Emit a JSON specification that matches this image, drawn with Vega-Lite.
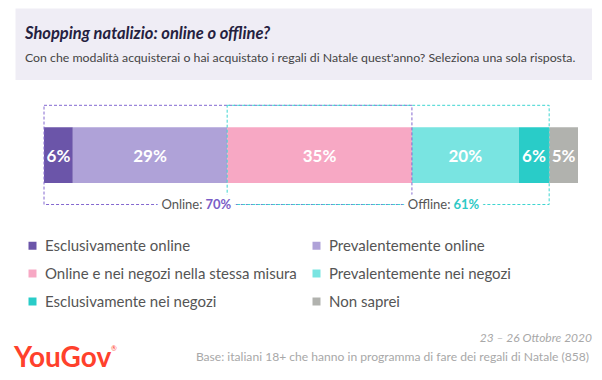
{
  "$schema": "https://vega.github.io/schema/vega-lite/v6.json",
  "width": 602,
  "height": 380,
  "padding": 0,
  "autosize": {"type": "none"},
  "background": "white",
  "config": {"view": {"stroke": null}, "font": "Lato"},
  "datasets": {
    "segments": [
      {"category": "Esclusivamente online", "value": 5.4, "label": "6%", "order": 1},
      {"category": "Prevalentemente online", "value": 28.9, "label": "29%", "order": 2},
      {"category": "Online e nei negozi nella stessa misura", "value": 34.6, "label": "35%", "order": 3},
      {"category": "Prevalentemente nei negozi", "value": 20.0, "label": "20%", "order": 4},
      {"category": "Esclusivamente nei negozi", "value": 5.7, "label": "6%", "order": 5},
      {"category": "Non saprei", "value": 5.4, "label": "5%", "order": 6}
    ],
    "brackets": [
      {"group": "Online", "label": "Online:", "from": 0, "to": 68.9, "total": "70%"},
      {"group": "Offline", "label": "Offline:", "from": 34.3, "to": 94.6, "total": "61%"}
    ],
    "header": [
      {"heading": "Shopping natalizio: online o offline?", "question": "Con che modalità acquisterai o hai acquistato i regali di Natale quest'anno? Seleziona una sola risposta."}
    ],
    "footer": [
      {"period": "23 – 26 Ottobre 2020", "sample": "Base: italiani 18+ che hanno in programma di fare dei regali di Natale (858)", "brand": "YouGov", "reg": "®"}
    ]
  },
  "layer": [
    {
      "data": {"name": "segments"},
      "transform": [
        {"stack": "value", "groupby": [], "sort": [{"field": "order"}], "as": ["start", "end"]}
      ],
      "mark": {"type": "rect"},
      "encoding": {
        "x": {"field": "start", "type": "quantitative", "scale": {"domain": [0, 100], "range": [44, 578], "nice": false}, "axis": null},
        "x2": {"field": "end"},
        "y": {"datum": 127.3, "type": "quantitative", "scale": {"domain": [0, 380], "range": [0, 380], "nice": false}, "axis": null},
        "y2": {"datum": 183},
        "color": {
          "field": "category",
          "type": "nominal",
          "sort": null,
          "scale": {
            "domain": ["Esclusivamente online", "Prevalentemente online", "Online e nei negozi nella stessa misura", "Prevalentemente nei negozi", "Esclusivamente nei negozi", "Non saprei"],
            "range": ["#6b55a9", "#afa2d8", "#f7a8c4", "#79e4e1", "#29ccc8", "#b1b2ae"]
          },
          "legend": {
            "orient": "none",
            "legendX": 25,
            "legendY": 238,
            "direction": "horizontal",
            "columns": 2,
            "title": null,
            "symbolType": "square",
            "symbolSize": 64,
            "symbolStrokeWidth": 0,
            "labelFont": "Lato",
            "labelFontSize": 15,
            "labelColor": "#555555",
            "labelLimit": 400,
            "labelOffset": 5,
            "rowPadding": 12,
            "columnPadding": 12
          }
        }
      }
    },
    {
      "data": {"name": "segments"},
      "transform": [
        {"stack": "value", "groupby": [], "sort": [{"field": "order"}], "as": ["start", "end"]},
        {"fold": ["start", "end"], "as": ["edge", "pos"]},
        {"aggregate": [{"op": "mean", "field": "pos", "as": "mid"}], "groupby": ["category", "label"]}
      ],
      "mark": {"type": "text", "align": "center", "baseline": "middle", "font": "Lato", "fontSize": 17, "fontWeight": "bold", "fill": "white"},
      "encoding": {
        "x": {"field": "mid", "type": "quantitative"},
        "y": {"datum": 156.5, "type": "quantitative"},
        "text": {"field": "label"}
      }
    },
    {
      "data": {"name": "brackets"},
      "mark": {"type": "rect", "fillOpacity": 0, "strokeWidth": 1, "strokeDash": [3, 2]},
      "encoding": {
        "x": {"field": "from", "type": "quantitative"},
        "x2": {"field": "to"},
        "y": {"datum": 105.3, "type": "quantitative"},
        "y2": {"datum": 204.5},
        "stroke": {"field": "group", "type": "nominal", "scale": {"domain": ["Online", "Offline"], "range": ["#8468d0", "#3dd5d1"]}, "legend": null}
      }
    },
    {
      "data": {"name": "brackets"},
      "transform": [{"filter": "datum.group == 'Online'"}],
      "mark": {"type": "text", "align": "right", "baseline": "middle", "dx": -1.5, "font": "Lato", "fontSize": 13, "fill": "white", "stroke": "white", "strokeWidth": 9},
      "encoding": {"x": {"datum": 29.96, "type": "quantitative"}, "y": {"datum": 205, "type": "quantitative"}, "text": {"field": "label"}}
    },
    {
      "data": {"name": "brackets"},
      "transform": [{"filter": "datum.group == 'Online'"}],
      "mark": {"type": "text", "align": "left", "baseline": "middle", "dx": 1.5, "font": "Lato", "fontSize": 13, "fontWeight": "bold", "fill": "white", "stroke": "white", "strokeWidth": 9},
      "encoding": {"x": {"datum": 29.96, "type": "quantitative"}, "y": {"datum": 205, "type": "quantitative"}, "text": {"field": "total"}}
    },
    {
      "data": {"name": "brackets"},
      "transform": [{"filter": "datum.group == 'Offline'"}],
      "mark": {"type": "text", "align": "right", "baseline": "middle", "dx": -1.5, "font": "Lato", "fontSize": 13, "fill": "white", "stroke": "white", "strokeWidth": 9},
      "encoding": {"x": {"datum": 76.4, "type": "quantitative"}, "y": {"datum": 205, "type": "quantitative"}, "text": {"field": "label"}}
    },
    {
      "data": {"name": "brackets"},
      "transform": [{"filter": "datum.group == 'Offline'"}],
      "mark": {"type": "text", "align": "left", "baseline": "middle", "dx": 1.5, "font": "Lato", "fontSize": 13, "fontWeight": "bold", "fill": "white", "stroke": "white", "strokeWidth": 9},
      "encoding": {"x": {"datum": 76.4, "type": "quantitative"}, "y": {"datum": 205, "type": "quantitative"}, "text": {"field": "total"}}
    },
    {
      "data": {"name": "brackets"},
      "transform": [{"filter": "datum.group == 'Online'"}],
      "mark": {"type": "text", "align": "right", "baseline": "middle", "dx": -1.5, "font": "Lato", "fontSize": 13, "fill": "#555555"},
      "encoding": {"x": {"datum": 29.96, "type": "quantitative"}, "y": {"datum": 205, "type": "quantitative"}, "text": {"field": "label"}}
    },
    {
      "data": {"name": "brackets"},
      "transform": [{"filter": "datum.group == 'Online'"}],
      "mark": {"type": "text", "align": "left", "baseline": "middle", "dx": 1.5, "font": "Lato", "fontSize": 13, "fontWeight": "bold", "fill": "#7a5dc7"},
      "encoding": {"x": {"datum": 29.96, "type": "quantitative"}, "y": {"datum": 205, "type": "quantitative"}, "text": {"field": "total"}}
    },
    {
      "data": {"name": "brackets"},
      "transform": [{"filter": "datum.group == 'Offline'"}],
      "mark": {"type": "text", "align": "right", "baseline": "middle", "dx": -1.5, "font": "Lato", "fontSize": 13, "fill": "#555555"},
      "encoding": {"x": {"datum": 76.4, "type": "quantitative"}, "y": {"datum": 205, "type": "quantitative"}, "text": {"field": "label"}}
    },
    {
      "data": {"name": "brackets"},
      "transform": [{"filter": "datum.group == 'Offline'"}],
      "mark": {"type": "text", "align": "left", "baseline": "middle", "dx": 1.5, "font": "Lato", "fontSize": 13, "fontWeight": "bold", "fill": "#2ec9c5"},
      "encoding": {"x": {"datum": 76.4, "type": "quantitative"}, "y": {"datum": 205, "type": "quantitative"}, "text": {"field": "total"}}
    },
    {
      "data": {"name": "header"},
      "mark": {"type": "rect", "fill": "#efedf5"},
      "encoding": {
        "x": {"datum": -5.34, "type": "quantitative"},
        "x2": {"datum": 102.62},
        "y": {"datum": 8.5, "type": "quantitative"},
        "y2": {"datum": 80}
      }
    },
    {
      "data": {"name": "header"},
      "mark": {"type": "text", "align": "left", "baseline": "middle", "font": "Lato", "fontSize": 16.5, "fontWeight": "bold", "fontStyle": "italic", "fill": "#25213f"},
      "encoding": {
        "x": {"datum": -3.56, "type": "quantitative"},
        "y": {"datum": 34, "type": "quantitative"},
        "text": {"field": "heading"}
      }
    },
    {
      "data": {"name": "header"},
      "mark": {"type": "text", "align": "left", "baseline": "middle", "font": "Lato", "fontSize": 12.3, "fill": "#444444"},
      "encoding": {
        "x": {"datum": -3.56, "type": "quantitative"},
        "y": {"datum": 57.5, "type": "quantitative"},
        "text": {"field": "question"}
      }
    },
    {
      "data": {"name": "footer"},
      "mark": {"type": "text", "align": "right", "baseline": "middle", "font": "Lato", "fontSize": 12, "fontStyle": "italic", "fill": "#a8a8a8"},
      "encoding": {"x": {"datum": 102.62, "type": "quantitative"}, "y": {"datum": 337.5, "type": "quantitative"}, "text": {"field": "period"}}
    },
    {
      "data": {"name": "footer"},
      "mark": {"type": "text", "align": "right", "baseline": "middle", "font": "Lato", "fontSize": 12.1, "fill": "#a8a8a8"},
      "encoding": {"x": {"datum": 102.06, "type": "quantitative"}, "y": {"datum": 357, "type": "quantitative"}, "text": {"field": "sample"}}
    },
    {
      "data": {"name": "footer"},
      "mark": {"type": "text", "align": "left", "baseline": "alphabetic", "font": "Lato", "fontSize": 28, "fontWeight": "bold", "fill": "#ff412c"},
      "encoding": {"x": {"datum": -5.62, "type": "quantitative"}, "y": {"datum": 367, "type": "quantitative"}, "text": {"field": "brand"}}
    },
    {
      "data": {"name": "footer"},
      "mark": {"type": "text", "align": "left", "baseline": "middle", "font": "Lato", "fontSize": 7, "fill": "#ff412c"},
      "encoding": {"x": {"datum": 12.55, "type": "quantitative"}, "y": {"datum": 349, "type": "quantitative"}, "text": {"field": "reg"}}
    }
  ]
}
